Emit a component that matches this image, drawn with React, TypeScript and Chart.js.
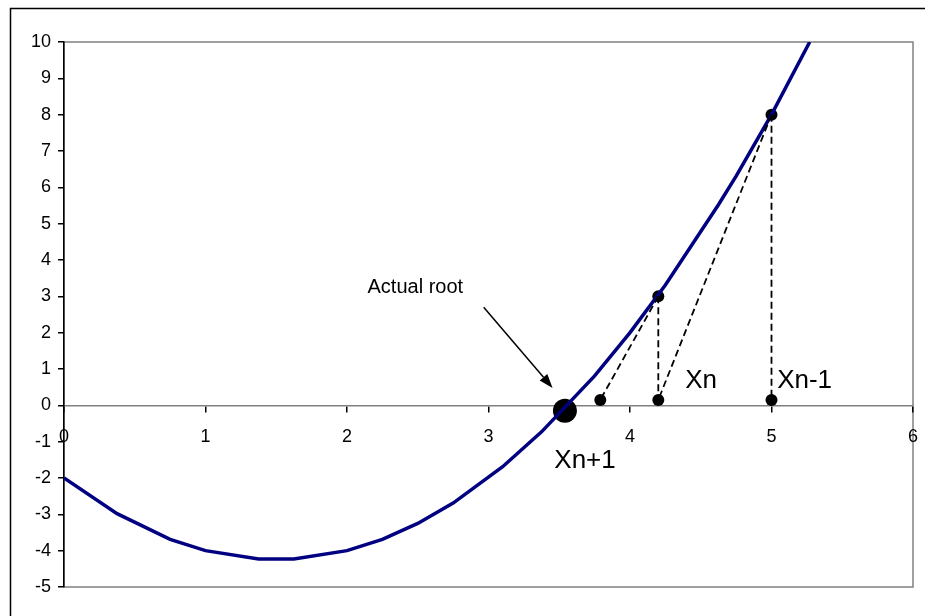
import React, { useEffect, useRef } from 'react';
import { Chart, registerables } from 'chart.js';

Chart.register(...registerables);

// f(x) sampled along the curve
const curveX = [0, 0.375, 0.75, 1, 1.375, 1.625, 2, 2.25, 2.5, 2.75, 3.1, 3.375, 3.75, 4, 4.25, 4.625, 4.75, 5, 5.27];
const curveY = [-2, -2.98, -3.69, -4, -4.23, -4.23, -4, -3.69, -3.25, -2.69, -1.69, -0.73, 0.81, 2, 3.31, 5.52, 6.31, 8, 10];

// iterates of the secant method: Xn-1, Xn and the estimate they produce
const iterX = [5, 4.2, 3.79];
const iterFx = [8, 3];
const baseY = 0.15;

// actual root of f
const rootX = [3.54];
const rootY = [-0.15];

const FONT = '"Liberation Sans", Arial, Helvetica, sans-serif';

const pts = (xs: number[], ys: number[]) => xs.map((x, i) => ({ x, y: ys[i] }));

const decorPlugin = {
  id: 'decor',
  beforeDraw(chart: any) {
    const { ctx, chartArea } = chart;
    const { left, top, right, bottom } = chartArea;
    ctx.save();
    ctx.fillStyle = '#ffffff';
    ctx.fillRect(0, 0, chart.width, chart.height);
    // outer frame
    ctx.strokeStyle = '#000000';
    ctx.lineWidth = 1.5;
    ctx.beginPath();
    ctx.moveTo(10.5, chart.height);
    ctx.lineTo(10.5, 8.5);
    ctx.lineTo(chart.width, 8.5);
    ctx.stroke();
    // plot area frame
    ctx.strokeStyle = '#808080';
    ctx.lineWidth = 1.5;
    ctx.strokeRect(left, top, right - left, bottom - top);
    ctx.restore();
  },
  afterDatasetsDraw(chart: any) {
    const { ctx } = chart;
    const xs = chart.scales.x;
    const ys = chart.scales.y;
    const px = (v: number) => xs.getPixelForValue(v);
    const py = (v: number) => ys.getPixelForValue(v);
    ctx.save();
    ctx.fillStyle = '#000000';
    ctx.textAlign = 'left';
    ctx.textBaseline = 'alphabetic';
    ctx.font = `20px ${FONT}`;
    ctx.fillText('Actual root', px(2.145), py(3.1));
    ctx.font = `26px ${FONT}`;
    ctx.fillText('Xn', px(4.39), py(0.49));
    ctx.fillText('Xn-1', px(5.04), py(0.49));
    ctx.fillText('Xn+1', px(3.465), py(-1.72));

    // arrow pointing at the root
    const x1 = px(2.966), y1 = py(2.7);
    const x2 = px(3.453), y2 = py(0.48);
    const ang = Math.atan2(y2 - y1, x2 - x1);
    const headLen = 14, headW = 5;
    const bx = x2 - headLen * Math.cos(ang);
    const by = y2 - headLen * Math.sin(ang);
    ctx.strokeStyle = '#000000';
    ctx.lineWidth = 1.5;
    ctx.beginPath();
    ctx.moveTo(x1, y1);
    ctx.lineTo(bx, by);
    ctx.stroke();
    ctx.beginPath();
    ctx.moveTo(x2, y2);
    ctx.lineTo(bx + headW * Math.sin(ang), by - headW * Math.cos(ang));
    ctx.lineTo(bx - headW * Math.sin(ang), by + headW * Math.cos(ang));
    ctx.closePath();
    ctx.fill();
    ctx.restore();
  },
};

export default function App() {
  const canvasRef = useRef<HTMLCanvasElement | null>(null);

  useEffect(() => {
    document.body.style.margin = '0';
    const canvas = canvasRef.current;
    if (!canvas) return;

    const dashed = {
      showLine: true,
      borderColor: '#000000',
      borderWidth: 1.8,
      borderDash: [7, 4],
      pointRadius: 0,
      fill: false,
    };

    const chart = new Chart(canvas, {
      type: 'scatter',
      data: {
        datasets: [
          { ...dashed, label: 'drop Xn-1', data: [{ x: iterX[0], y: iterFx[0] }, { x: iterX[0], y: baseY }] },
          { ...dashed, label: 'secant Xn-1', data: [{ x: iterX[0], y: iterFx[0] }, { x: iterX[1], y: baseY }] },
          { ...dashed, label: 'drop Xn', data: [{ x: iterX[1], y: iterFx[1] }, { x: iterX[1], y: baseY }] },
          { ...dashed, label: 'secant Xn', data: [{ x: iterX[1], y: iterFx[1] }, { x: iterX[2], y: baseY }] },
          {
            label: 'f(x)',
            data: pts(curveX, curveY),
            showLine: true,
            borderColor: '#000080',
            borderWidth: 3.5,
            pointRadius: 0,
            tension: 0,
            fill: false,
          },
          {
            label: 'f at iterates',
            data: pts(iterX.slice(0, 2), iterFx),
            pointRadius: 6,
            backgroundColor: '#000000',
            borderWidth: 0,
          },
          {
            label: 'iterates',
            data: iterX.map((x) => ({ x, y: baseY })),
            pointRadius: 6,
            backgroundColor: '#000000',
            borderWidth: 0,
          },
          {
            label: 'root',
            data: pts(rootX, rootY),
            pointRadius: 12,
            backgroundColor: '#000000',
            borderWidth: 0,
          },
        ],
      },
      options: {
        responsive: false,
        animation: false,
        devicePixelRatio: 1,
        layout: { padding: { left: 0, top: 42, right: 11, bottom: 29 } },
        plugins: {
          legend: { display: false },
          tooltip: { enabled: false },
        },
        scales: {
          x: {
            type: 'linear',
            position: { y: 0 } as any,
            min: 0,
            max: 6,
            afterFit: (s: any) => {
              s.height = 0;
              s.paddingLeft = 0;
              s.paddingRight = 0;
            },
            ticks: {
              stepSize: 1,
              autoSkip: false,
              maxRotation: 0,
              padding: 15,
              color: '#000000',
              font: { family: FONT, size: 18 },
            },
            grid: {
              drawOnChartArea: false,
              tickLength: 6,
              tickColor: '#000000',
              color: '#000000',
              lineWidth: 1.5,
            },
            border: { color: '#808080', width: 1.5 },
          },
          y: {
            type: 'linear',
            min: -5,
            max: 10,
            afterFit: (s: any) => {
              s.width = 64;
              s.paddingTop = 0;
              s.paddingBottom = 0;
            },
            ticks: {
              stepSize: 1,
              autoSkip: false,
              padding: 7,
              color: '#000000',
              font: { family: FONT, size: 18 },
            },
            grid: {
              drawOnChartArea: false,
              tickLength: 6,
              tickColor: '#000000',
              color: '#000000',
              lineWidth: 1.5,
            },
            border: { color: '#000000', width: 1.5 },
          },
        },
      },
      plugins: [decorPlugin],
    });

    return () => chart.destroy();
  }, []);

  return <canvas ref={canvasRef} width={925} height={616} style={{ display: 'block' }} />;
}
